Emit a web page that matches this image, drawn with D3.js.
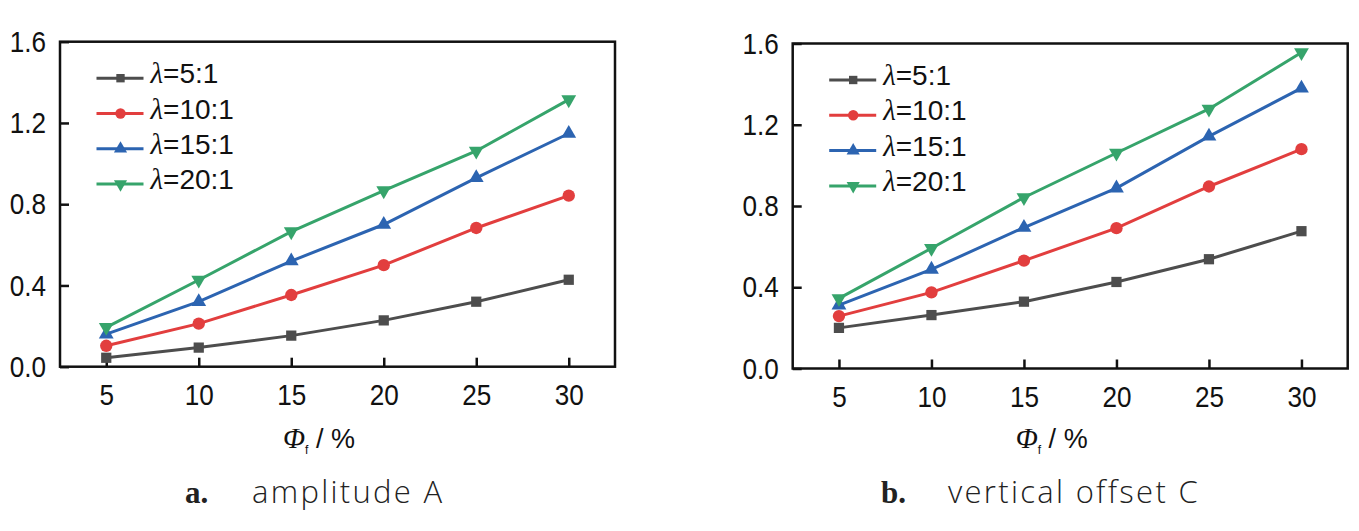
<!DOCTYPE html>
<html>
<head>
<meta charset="utf-8">
<script src="https://cdn.jsdelivr.net/npm/d3@7"></script>
<style>
  body { margin: 0; background: #fff; }
  .tick text { font-family: "Liberation Sans", sans-serif; font-size: 30px; fill: #111; }
</style>
</head>
<body>
<svg id="chart" width="1359" height="531"></svg>
<script>
// fibre content (%)
var phiF = [5, 10, 15, 20, 25, 30];
var ratioLabels = ["5:1", "10:1", "15:1", "20:1"];

// panel a: amplitude A
var ampA_5 = [0.044, 0.094, 0.153, 0.228, 0.320, 0.428];
var ampA_10 = [0.103, 0.212, 0.353, 0.500, 0.683, 0.842];
var ampA_15 = [0.160, 0.320, 0.520, 0.700, 0.930, 1.148];
var ampA_20 = [0.194, 0.427, 0.665, 0.867, 1.062, 1.315];

// panel b: vertical offset C
var offC_5 = [0.200, 0.263, 0.329, 0.426, 0.538, 0.676];
var offC_10 = [0.258, 0.375, 0.531, 0.691, 0.896, 1.080];
var offC_15 = [0.312, 0.488, 0.694, 0.888, 1.143, 1.380];
var offC_20 = [0.345, 0.592, 0.842, 1.061, 1.278, 1.556];

var xTicks = [5, 10, 15, 20, 25, 30];
var yTicks = [0.0, 0.4, 0.8, 1.2, 1.6];

var colors = ["#4d4d4d", "#e23e3e", "#2c64b1", "#36a46b"];
var shapes = [d3.symbolSquare, d3.symbolCircle, d3.symbolTriangle, d3.symbolTriangle];

var svg = d3.select("#chart");

function drawPanel(left, top, series, letter, caption, capX) {
    var width = 555, height = 325;

    var x = d3.scaleLinear().domain([2.5, 32.5]).range([0, width]);
    var y = d3.scaleLinear().domain([0, 1.6]).range([height, 0]);

    var g = svg.append("g")
        .attr("transform", "translate(" + left + "," + top + ")");

    // x axis (ticks inward)
    var xa = g.append("g")
        .attr("transform", "translate(0," + height + ")")
        .call(d3.axisBottom(x).tickValues(xTicks).tickSizeInner(-9).tickSizeOuter(0).tickPadding(17)
            .tickFormat(d3.format("d")));
    xa.select(".domain").remove();

    var ya = g.append("g")
        .call(d3.axisLeft(y).tickValues(yTicks).tickSizeInner(-9).tickSizeOuter(0).tickPadding(16)
            .tickFormat(d3.format(".1f")));
    ya.select(".domain").remove();

    // condensed look of the tick labels
    g.selectAll(".tick text").attr("transform", "scale(0.87,1)");
    g.selectAll(".tick line").attr("stroke", "#111").attr("stroke-width", 2.5);

    // frame
    g.append("rect")
        .attr("width", width).attr("height", height)
        .attr("fill", "none").attr("stroke", "#111").attr("stroke-width", 2.5);

    var line = d3.line()
        .x(function (d, i) { return x(phiF[i]); })
        .y(function (d) { return y(d); });

    series.forEach(function (vals, k) {
        g.append("path")
            .datum(vals)
            .attr("d", line)
            .attr("fill", "none")
            .attr("stroke", colors[k])
            .attr("stroke-width", 3);

        var sym = d3.symbol().type(shapes[k]).size(k == 1 ? 120 : (k == 0 ? 105 : 95));
        g.selectAll(".m" + k)
            .data(vals)
            .enter().append("path")
            .attr("class", "m" + k)
            .attr("d", sym)
            .attr("fill", colors[k])
            .attr("transform", function (d, i) {
                var t = "translate(" + x(phiF[i]) + "," + y(d) + ")";
                if (k == 3) t += " rotate(180)";
                return t;
            });
    });

    // legend
    var lg = g.append("g").attr("transform", "translate(36.5,36.5)");
    ratioLabels.forEach(function (r, k) {
        var row = lg.append("g").attr("transform", "translate(0," + (k * 35.3) + ")");
        row.append("line")
            .attr("x1", 0).attr("x2", 47)
            .attr("stroke", colors[k]).attr("stroke-width", 3);
        var sym = d3.symbol().type(shapes[k]).size(k == 1 ? 85 : (k == 0 ? 70 : 75));
        row.append("path")
            .attr("d", sym)
            .attr("fill", colors[k])
            .attr("transform", "translate(24,0)" + (k == 3 ? " rotate(180)" : ""));
        var t = row.append("text")
            .attr("x", 54).attr("y", 5)
            .attr("font-size", 29)
            .attr("fill", "#111");
        t.append("tspan")
            .attr("font-family", "Liberation Serif, serif")
            .attr("font-style", "italic")
            .text("λ");
        t.append("tspan")
            .attr("font-family", "Liberation Sans, sans-serif")
            .attr("font-size", 28)
            .text("=" + r);
    });

    // axis title
    var at = g.append("text")
        .attr("x", 223).attr("y", 448 - top)
        .attr("font-size", 29)
        .attr("fill", "#111");
    at.append("tspan")
        .attr("font-family", "Liberation Serif, serif")
        .attr("font-style", "italic")
        .text("Φ");
    at.append("tspan")
        .attr("font-family", "Liberation Sans, sans-serif")
        .attr("font-size", 12)
        .attr("dy", 6)
        .text("f");
    at.append("tspan")
        .attr("font-family", "Liberation Sans, sans-serif")
        .attr("font-size", 27)
        .attr("dy", -6)
        .text(" / %");

    // caption
    svg.append("text")
        .attr("x", capX).attr("y", 503)
        .attr("font-family", "Liberation Serif, serif")
        .attr("font-weight", "bold")
        .attr("font-size", 31)
        .attr("fill", "#222")
        .text(letter);
    svg.append("text")
        .attr("x", capX + 67).attr("y", 503)
        .attr("font-family", "Open Sans, sans-serif")
        .attr("font-weight", 300)
        .attr("font-size", 31)
        .attr("letter-spacing", 2.3)
        .attr("fill", "#222")
        .text(caption);
}

drawPanel(60, 41.7, [ampA_5, ampA_10, ampA_15, ampA_20], "a.", "amplitude A", 185);
drawPanel(792.7, 43.5, [offC_5, offC_10, offC_15, offC_20], "b.", "vertical offset C", 881);
</script>
</body>
</html>
